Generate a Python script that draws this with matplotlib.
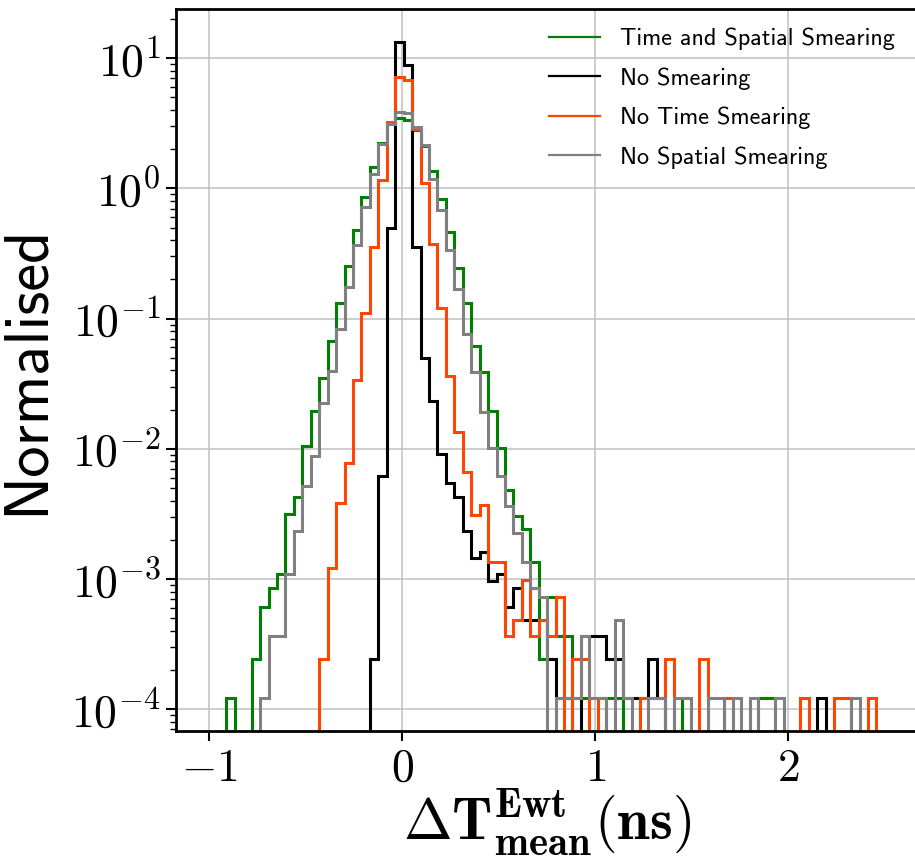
import matplotlib
matplotlib.use("Agg")
import matplotlib.pyplot as plt
from matplotlib.ticker import FuncFormatter, MultipleLocator, LogLocator, NullFormatter
import numpy as np

plt.rcParams['mathtext.fontset'] = 'cm'

# 80 bins between -1 and 2.5 ns, shared by all four histograms
binEdges = np.linspace(-1, 2.5, 81)

# normalised bin contents (one row = 10 bins)
timeSpatialSmear = [0, 0, 1.22e-4, 0, 0, 2.44e-4, 6.1e-4, 8.5e-4, 1.1e-3, 3.15e-3,
                    4.3e-3, 1.05e-2, 1.95e-2, 3.5e-2, 6.7e-2, 0.132, 0.252, 0.479, 0.862, 1.46,
                    2.22, 3.1, 3.46, 3.38, 2.8, 2.1, 1.36, 0.828, 0.465, 0.244,
                    0.132, 0.0619, 0.0386, 0.0194, 0.0102, 4.8e-3, 3.04e-3, 2.44e-3, 1.34e-3, 2.44e-4,
                    7.3e-4, 3.66e-4, 3.66e-4, 1.22e-4, 1.22e-4, 0, 0, 1.22e-4, 1.22e-4, 0,
                    0, 0, 0, 0, 0, 0, 1.22e-4, 0, 0, 0,
                    0, 0, 0, 0, 0, 1.22e-4, 1.22e-4, 0, 0, 0,
                    0, 0, 0, 0, 0, 0, 0, 0, 0, 0]

noSmear = [0, 0, 0, 0, 0, 0, 0, 0, 0, 0,
           0, 0, 0, 0, 0, 0, 0, 0, 0, 2.44e-4,
           6.2e-3, 0.494, 13.4, 8.8, 0.357, 0.0498, 0.0232, 9.2e-3, 5.5e-3, 4.3e-3,
           2.34e-3, 1.46e-3, 1.6e-3, 9.7e-4, 1.09e-3, 6.1e-4, 8.5e-4, 4.88e-4, 4.88e-4, 4.88e-4,
           2.44e-4, 1.22e-4, 1.22e-4, 0, 3.66e-4, 3.66e-4, 3.66e-4, 2.44e-4, 2.44e-4, 1.22e-4,
           1.22e-4, 1.22e-4, 2.44e-4, 1.22e-4, 0, 0, 0, 0, 0, 0,
           0, 0, 0, 0, 0, 0, 0, 0, 0, 0,
           0, 0, 1.22e-4, 0, 0, 0, 0, 0, 0, 0]

noTimeSmear = [0, 0, 0, 0, 0, 0, 0, 0, 0, 0,
               0, 0, 0, 2.44e-4, 1.22e-3, 3.85e-3, 7.8e-3, 0.034, 0.110, 0.357,
               1.16, 3.24, 7.2, 6.8, 2.88, 1.10, 0.374, 0.120, 0.0365, 0.0134,
               6.6e-3, 3.08e-3, 3.68e-3, 1.35e-3, 1.35e-3, 3.66e-4, 4.88e-4, 9.76e-4, 3.66e-4, 4.88e-4,
               3.66e-4, 7.3e-4, 0, 2.44e-4, 2.44e-4, 0, 1.22e-4, 0, 0, 0,
               0, 1.22e-4, 0, 0, 2.44e-4, 0, 0, 0, 2.44e-4, 0,
               0, 1.22e-4, 0, 0, 0, 0, 0, 0, 0, 0,
               1.22e-4, 0, 0, 0, 1.22e-4, 1.22e-4, 0, 0, 1.22e-4, 0]

noSpatialSmear = [0, 0, 0, 0, 0, 0, 1.22e-4, 3.66e-4, 3.66e-4, 1.1e-3,
                  2.34e-3, 5.2e-3, 8.8e-3, 0.0225, 0.0393, 0.083, 0.174, 0.368, 0.723, 1.30,
                  2.21, 3.15, 3.84, 3.77, 2.98, 2.14, 1.19, 0.682, 0.337, 0.168,
                  0.0765, 0.0386, 0.0191, 0.0102, 6.2e-3, 3.63e-3, 2.24e-3, 1.34e-3, 8.5e-4, 7.3e-4,
                  0, 1.22e-4, 1.22e-4, 1.22e-4, 3.66e-4, 1.22e-4, 1.22e-4, 0, 4.88e-4, 1.22e-4,
                  0, 0, 1.22e-4, 1.22e-4, 0, 1.22e-4, 1.22e-4, 0, 0, 1.22e-4,
                  1.22e-4, 0, 1.22e-4, 0, 1.22e-4, 0, 0, 1.22e-4, 0, 0,
                  0, 0, 0, 0, 0, 0, 1.22e-4, 0, 0, 0]

labels = ["Time and Spatial Smearing", "No Smearing", "No Time Smearing", "No Spatial Smearing"]
colors = ["green", "black", "orangered", "gray"]

fig = plt.figure(figsize=(9.15, 8.61), dpi=100)
ax = fig.add_axes([0.192, 0.151, 0.812, 0.8386])

series = [timeSpatialSmear, noSmear, noTimeSmear, noSpatialSmear]
for vals, lab, col in zip(series, labels, colors):
    ax.stairs(vals, binEdges, baseline=0, color=col, lw=2.2, label=lab)

ax.set_yscale('log')
ax.set_xlim(-1.175, 2.675)
ax.set_ylim(6.8e-5, 23.9)

ax.xaxis.set_major_locator(MultipleLocator(1))
ax.xaxis.set_major_formatter(FuncFormatter(lambda v, p: r'$%d$' % int(round(v))))
ax.yaxis.set_major_locator(LogLocator(base=10))
ax.yaxis.set_major_formatter(FuncFormatter(lambda v, p: r'$10^{%d}$' % int(round(np.log10(v)))))
ax.yaxis.set_minor_formatter(NullFormatter())

ax.grid(True, which='major', color='#c0c0c0', lw=1.1)
ax.set_axisbelow(True)
for s in ax.spines.values():
    s.set_linewidth(2)
ax.tick_params(which='major', labelsize=33, length=7, width=1.5)
ax.tick_params(which='minor', length=4, width=1)

ax.set_ylabel("Normalised", family='cmss10', fontsize=45, labelpad=12)
ax.set_xlabel(r'$\mathbf{\Delta T^{Ewt}_{mean}(ns)}$', fontsize=42, labelpad=-3)

leg = ax.legend(loc='upper left', bbox_to_anchor=(549 / 915, 1 - 28 / 861), bbox_transform=fig.transFigure,
                frameon=False, prop={'family': 'cmss10', 'size': 17.4}, handlelength=2.1,
                handletextpad=0.85, labelspacing=0.7, borderpad=0, borderaxespad=0)
for line in leg.get_lines():
    line.set_linewidth(1.6)

fig.savefig("out.png", dpi=100)
